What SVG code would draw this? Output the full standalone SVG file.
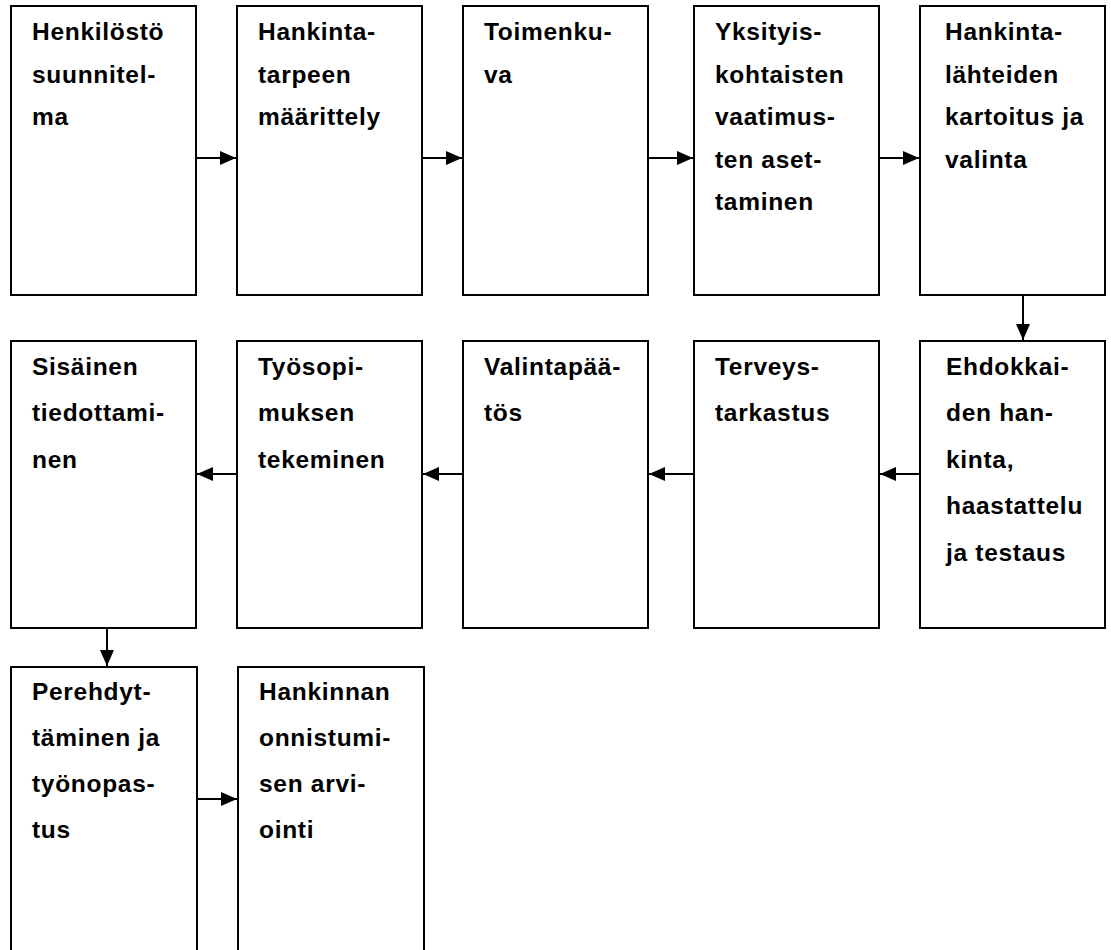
<svg xmlns="http://www.w3.org/2000/svg" width="1111" height="950" viewBox="0 0 1111 950">
  <defs>
    <marker id="head" viewBox="0 0 16 14" refX="16" refY="7" markerWidth="16" markerHeight="14" markerUnits="userSpaceOnUse" orient="auto">
      <path d="M0,0 L16,7 L0,14 Z" fill="#000"/>
    </marker>
    <style>
      .box { fill: #fff; stroke: #000; stroke-width: 2; }
      .lbl { font-family: "Liberation Sans", Arial, sans-serif; font-weight: bold; font-size: 24.5px; letter-spacing: 0.7px; fill: #000; }
      .conn { stroke: #000; stroke-width: 2; fill: none; marker-end: url(#head); }
    </style>
  </defs>
  <rect width="1111" height="950" fill="#fff"/>

  <!-- row 1 -->
  <g id="n1">
    <rect class="box" x="11" y="6" width="185" height="289"/>
    <text class="lbl"><tspan x="32" y="40">Henkilöstö</tspan><tspan x="32" y="83">suunnitel-</tspan><tspan x="32" y="125">ma</tspan></text>
  </g>
  <g id="n2">
    <rect class="box" x="237" y="6" width="185" height="289"/>
    <text class="lbl"><tspan x="258" y="40">Hankinta-</tspan><tspan x="258" y="83">tarpeen</tspan><tspan x="258" y="125">määrittely</tspan></text>
  </g>
  <g id="n3">
    <rect class="box" x="463" y="6" width="185" height="289"/>
    <text class="lbl"><tspan x="484" y="40">Toimenku-</tspan><tspan x="484" y="83">va</tspan></text>
  </g>
  <g id="n4">
    <rect class="box" x="694" y="6" width="185" height="289"/>
    <text class="lbl"><tspan x="715" y="40">Yksityis-</tspan><tspan x="715" y="83">kohtaisten</tspan><tspan x="715" y="125">vaatimus-</tspan><tspan x="715" y="168">ten aset-</tspan><tspan x="715" y="210">taminen</tspan></text>
  </g>
  <g id="n5">
    <rect class="box" x="920" y="6" width="185" height="289"/>
    <text class="lbl"><tspan x="945" y="40">Hankinta-</tspan><tspan x="945" y="83">lähteiden</tspan><tspan x="945" y="125">kartoitus ja</tspan><tspan x="945" y="168">valinta</tspan></text>
  </g>

  <!-- row 2 -->
  <g id="n6">
    <rect class="box" x="920" y="341" width="185" height="287"/>
    <text class="lbl"><tspan x="946" y="375">Ehdokkai-</tspan><tspan x="946" y="421">den han-</tspan><tspan x="946" y="468">kinta,</tspan><tspan x="946" y="514">haastattelu</tspan><tspan x="946" y="561">ja testaus</tspan></text>
  </g>
  <g id="n7">
    <rect class="box" x="694" y="341" width="185" height="287"/>
    <text class="lbl"><tspan x="715" y="375">Terveys-</tspan><tspan x="715" y="421">tarkastus</tspan></text>
  </g>
  <g id="n8">
    <rect class="box" x="463" y="341" width="185" height="287"/>
    <text class="lbl"><tspan x="484" y="375">Valintapää-</tspan><tspan x="484" y="421">tös</tspan></text>
  </g>
  <g id="n9">
    <rect class="box" x="237" y="341" width="185" height="287"/>
    <text class="lbl"><tspan x="258" y="375">Työsopi-</tspan><tspan x="258" y="421">muksen</tspan><tspan x="258" y="468">tekeminen</tspan></text>
  </g>
  <g id="n10">
    <rect class="box" x="11" y="341" width="185" height="287"/>
    <text class="lbl"><tspan x="32" y="375">Sisäinen</tspan><tspan x="32" y="421">tiedottami-</tspan><tspan x="32" y="468">nen</tspan></text>
  </g>

  <!-- row 3 -->
  <g id="n11">
    <rect class="box" x="11" y="667" width="186" height="300"/>
    <text class="lbl"><tspan x="32" y="700">Perehdyt-</tspan><tspan x="32" y="746">täminen ja</tspan><tspan x="32" y="792">työnopas-</tspan><tspan x="32" y="838">tus</tspan></text>
  </g>
  <g id="n12">
    <rect class="box" x="238" y="667" width="186" height="300"/>
    <text class="lbl"><tspan x="259" y="700">Hankinnan</tspan><tspan x="259" y="746">onnistumi-</tspan><tspan x="259" y="792">sen arvi-</tspan><tspan x="259" y="838">ointi</tspan></text>
  </g>

  <!-- connectors -->
  <g id="connectors">
    <line class="conn" x1="196" y1="158" x2="236" y2="158"/>
    <line class="conn" x1="422" y1="158" x2="462" y2="158"/>
    <line class="conn" x1="648" y1="158" x2="693" y2="158"/>
    <line class="conn" x1="879" y1="158" x2="919" y2="158"/>
    <line class="conn" x1="1023" y1="295" x2="1023" y2="340"/>
    <line class="conn" x1="920" y1="474" x2="880" y2="474"/>
    <line class="conn" x1="694" y1="474" x2="649" y2="474"/>
    <line class="conn" x1="463" y1="474" x2="423" y2="474"/>
    <line class="conn" x1="237" y1="474" x2="197" y2="474"/>
    <line class="conn" x1="107" y1="628" x2="107" y2="666"/>
    <line class="conn" x1="197" y1="799" x2="237" y2="799"/>
  </g>
</svg>
